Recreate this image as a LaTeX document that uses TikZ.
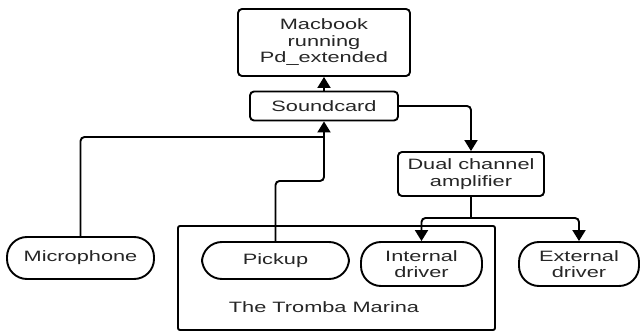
\documentclass[tikz,border=0pt]{standalone}
\usepackage{fontspec}
\setmainfont{Liberation Sans}[FakeStretch=1.45]
\usetikzlibrary{arrows.meta}
\begin{document}
\begin{tikzpicture}[x=1pt,y=-1pt,
  every node/.style={font=\fontsize{15}{16.5}\selectfont, text=black!85, align=center, inner sep=0pt},
  box/.style={draw, line width=1.9pt, rounded corners=4pt, minimum width=#1},
  pill/.style={draw, line width=1.9pt, rounded corners=20pt, minimum width=#1},
  conn/.style={line width=1.9pt, rounded corners=4pt},
  arr/.style={conn, -{Triangle[length=11pt,width=13pt]}}]
\useasboundingbox (0,0) rectangle (640,331);
\fill[white] (0,0) rectangle (640,331);
% nodes
\node[box=172pt, minimum height=67pt] (mac) at (324,42.5) {Macbook\\running\\Pd\_extended};
\node[box=148pt, minimum height=29pt] (sc) at (324,106) {Soundcard};
\node[box=146pt, minimum height=44pt] (amp) at (471,174) {Dual channel\\amplifier};
\node[pill=147pt, minimum height=42pt] (mic) at (80.5,258) {Microphone};
\node[draw, line width=1.9pt, rounded corners=2pt, minimum width=317pt, minimum height=104pt] (trom) at (336.5,278) {};
\node (tromlbl) at (324,307) {The Tromba Marina};
\node[pill=147pt, minimum height=37pt] (pick) at (275.5,260.5) {Pickup};
\node[pill=121pt, minimum height=44pt] (intd) at (421.5,264) {Internal\\driver};
\node[pill=120pt, minimum height=44pt] (extd) at (579,264) {External\\driver};
% junctions
\coordinate (j1) at (324,137);
\coordinate (j2) at (324,181);
\coordinate (br) at (471,218);
% connectors
\draw[arr] (sc.north) -- (mac.south);
\draw[conn] (mic.north) |- (j1);
\draw[arr] (pick.north) |- (j2) -- (sc.south);
\draw[arr] (sc.east) -| (amp.north);
\draw[conn] (amp.south) -- (br);
\draw[arr] (br) -| (intd.north);
\draw[arr] (br) -| (extd.north);
\end{tikzpicture}
\end{document}
